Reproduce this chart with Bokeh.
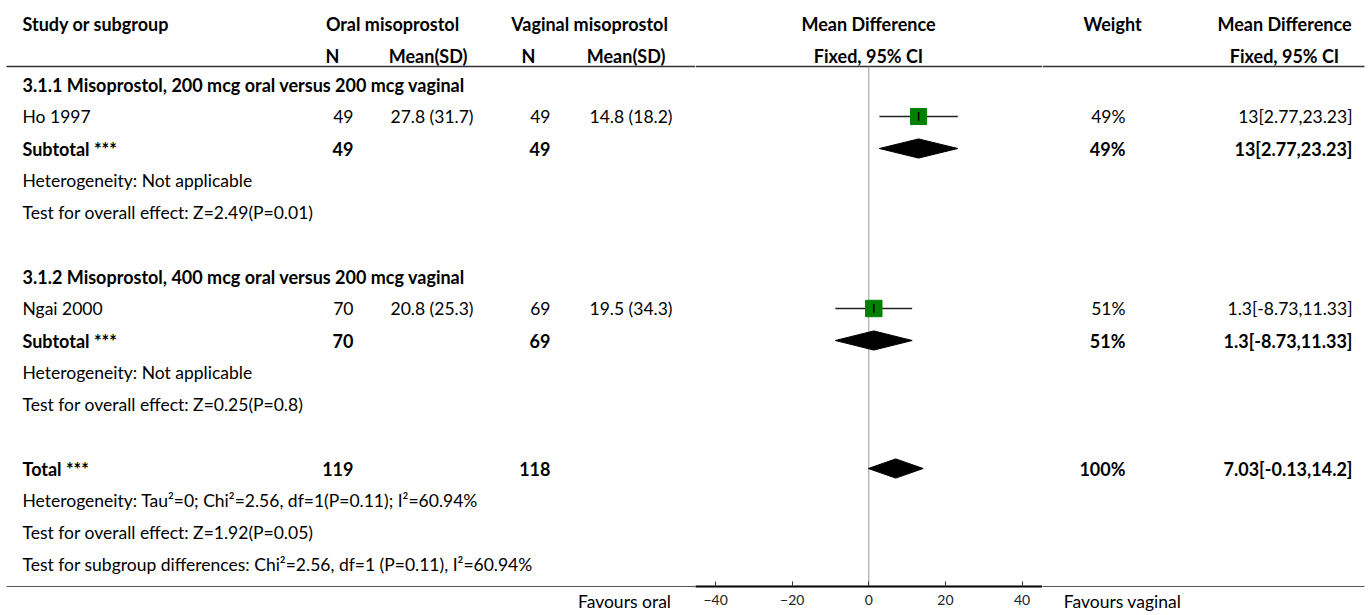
import math
from bokeh.plotting import figure
from bokeh.layouts import row
from bokeh.models import Range1d, LinearAxis, FixedTicker, ColumnDataSource
from bokeh.core.properties import value
from bokeh.embed import file_html
from bokeh.resources import INLINE

# ---------------- data ----------------
studies = ["Ho 1997", "Ngai 2000"]
oral_n = [49, 70]
oral_mean = [27.8, 20.8]
oral_sd = [31.7, 25.3]
vag_n = [49, 69]
vag_mean = [14.8, 19.5]
vag_sd = [18.2, 34.3]
md = [13, 1.3]
md_lo = [2.77, -8.73]
md_hi = [23.23, 11.33]
weights = [49, 51]

subgroups = [
    "3.1.1 Misoprostol, 200 mcg oral versus 200 mcg vaginal",
    "3.1.2 Misoprostol, 400 mcg oral versus 200 mcg vaginal",
]
subgroup_het = ["Heterogeneity: Not applicable", "Heterogeneity: Not applicable"]
subgroup_test = ["Test for overall effect: Z=2.49(P=0.01)",
                 "Test for overall effect: Z=0.25(P=0.8)"]

total_oral_n = 119
total_vag_n = 118
total_md = 7.03
total_lo = -0.13
total_hi = 14.2
total_weight = 100
total_het = "Heterogeneity: Tau\u00b2=0; Chi\u00b2=2.56, df=1(P=0.11); I\u00b2=60.94%"
total_test = "Test for overall effect: Z=1.92(P=0.05)"
subgroup_diff = "Test for subgroup differences: Chi\u00b2=2.56, df=1 (P=0.11), I\u00b2=60.94%"

tick_values = [-40, -20, 0, 20, 40]
favours_left = "Favours oral"
favours_right = "Favours vaginal"

# ---------------- layout constants ----------------
FONT = "Lato"
FS = "17.5px"
FS_BOLD = "18px"
W, H = 1370, 615
AXIS_Y = 586                       # axis line (page pixels)
ROW0_PX, ROW_PX = 84, 32           # first table row centre and row pitch
FOREST_L, FOREST_R = 695, 1042     # forest panel extent (page pixels)
PX_PER_UNIT, ZERO_PX = 3.83, 868.3
FAV_LEFT_CENTER, FAV_RIGHT_CENTER = 624, 1122   # centres of the favours captions

def row_of(px):
    return (px - ROW0_PX) / ROW_PX

def md_of(px):
    return (px - ZERO_PX) / PX_PER_UNIT

HEAD1 = row_of(23)
HEAD2 = row_of(55)
RULE = row_of(66)
BASE = row_of(AXIS_Y)

X_LEFT = 22
X_ORAL_N, X_ORAL_M = 353, 473
X_VAG_N, X_VAG_M = 550, 672
X_WEIGHT = 1125
X_CI = 1352


def make_fig(width, x_range):
    f = figure(width=width, height=H, output_backend="svg", toolbar_location=None,
               x_range=x_range, y_range=Range1d(BASE, row_of(0)),
               x_axis_location=None, y_axis_location=None,
               min_border_left=0, min_border_right=0, min_border_top=0,
               min_border_bottom=H - AXIS_Y)
    f.outline_line_color = None
    f.background_fill_color = "white"
    f.border_fill_color = "white"
    f.grid.visible = False
    return f


# three panels side by side: study table | forest plot | weight and effect columns
left = make_fig(FOREST_L, Range1d(0, FOREST_L))
mid = make_fig(FOREST_R - FOREST_L, Range1d(md_of(FOREST_L), md_of(FOREST_R)))
right = make_fig(W - FOREST_R, Range1d(FOREST_R, W))
panels = {"left": left, "mid": mid, "right": right}

cells = {}  # (panel, align, bold) -> columns

def put(x, y, text, align="left", bold=False):
    panel = "left" if x < FOREST_L else ("mid" if x < FOREST_R else "right")
    if panel == "mid":
        x = md_of(x)
    d = cells.setdefault((panel, align, bold), {"x": [], "y": [], "text": []})
    d["x"].append(x)
    d["y"].append(y)
    d["text"].append(text)

def ci_text(est, lo, hi):
    return f"{est:g}[{lo:g},{hi:g}]"

# column headers
put(X_LEFT, HEAD1, "Study or subgroup", bold=True)
put(392, HEAD1, "Oral misoprostol", "center", True)
put(589, HEAD1, "Vaginal misoprostol", "center", True)
put(868, HEAD1, "Mean Difference", "center", True)
put(1112, HEAD1, "Weight", "center", True)
put(1284, HEAD1, "Mean Difference", "center", True)
put(332, HEAD2, "N", "center", True)
put(467, HEAD2, "Mean(SD)", "right", True)
put(528, HEAD2, "N", "center", True)
put(665, HEAD2, "Mean(SD)", "right", True)
put(868, HEAD2, "Fixed, 95% CI", "center", True)
put(1284, HEAD2, "Fixed, 95% CI", "center", True)

study_rows = []
sub_rows = []
for i, name in enumerate(studies):
    base = 6 * i
    r_study, r_sub = base + 1, base + 2
    study_rows.append(r_study)
    sub_rows.append(r_sub)
    put(X_LEFT, base, subgroups[i], bold=True)
    put(X_LEFT, r_study, name)
    put(X_ORAL_N, r_study, str(oral_n[i]), "right")
    put(X_ORAL_M, r_study, f"{oral_mean[i]} ({oral_sd[i]})", "right")
    put(X_VAG_N, r_study, str(vag_n[i]), "right")
    put(X_VAG_M, r_study, f"{vag_mean[i]} ({vag_sd[i]})", "right")
    put(X_WEIGHT, r_study, f"{weights[i]}%", "right")
    put(X_CI, r_study, ci_text(md[i], md_lo[i], md_hi[i]), "right")
    put(X_LEFT, r_sub, "Subtotal ***", bold=True)
    put(X_ORAL_N, r_sub, str(oral_n[i]), "right", True)
    put(X_VAG_N, r_sub, str(vag_n[i]), "right", True)
    put(X_WEIGHT, r_sub, f"{weights[i]}%", "right", True)
    put(X_CI, r_sub, ci_text(md[i], md_lo[i], md_hi[i]), "right", True)
    put(X_LEFT, base + 3, subgroup_het[i])
    put(X_LEFT, base + 4, subgroup_test[i])

R_TOTAL = 12
put(X_LEFT, R_TOTAL, "Total ***", bold=True)
put(X_ORAL_N, R_TOTAL, str(total_oral_n), "right", True)
put(X_VAG_N, R_TOTAL, str(total_vag_n), "right", True)
put(X_WEIGHT, R_TOTAL, f"{total_weight}%", "right", True)
put(X_CI, R_TOTAL, ci_text(total_md, total_lo, total_hi), "right", True)
put(X_LEFT, R_TOTAL + 1, total_het)
put(X_LEFT, R_TOTAL + 2, total_test)
put(X_LEFT, R_TOTAL + 3, subgroup_diff)

for (panel, align, bold), d in cells.items():
    panels[panel].text(x="x", y="y", text="text", source=ColumnDataSource(d),
                       text_align=align, text_baseline="middle",
                       text_font=value(FONT), text_font_size=FS_BOLD if bold else FS,
                       text_font_style="bold" if bold else "normal", text_color="black")

# rule under the header
left.segment(x0=[6], x1=[FOREST_L], y0=[RULE], y1=[RULE], line_color="#333333", line_width=1.3)
mid.segment(x0=[md_of(FOREST_L)], x1=[md_of(FOREST_R)], y0=[RULE], y1=[RULE],
            line_color="#333333", line_width=1.3)
right.segment(x0=[FOREST_R], x1=[1364], y0=[RULE], y1=[RULE], line_color="#333333", line_width=1.3)

# ---------------- forest plot ----------------
mid.segment(x0=[0], x1=[0], y0=[RULE], y1=[BASE], line_color="#999999", line_width=1)

mid.segment(x0=md_lo, x1=md_hi, y0=study_rows, y1=study_rows,
            line_color="#222222", line_width=1.5)
mid.scatter(x=md, y=study_rows, size=[math.sqrt(w) * 2.3 for w in weights],
            marker="square", fill_color="#008000", line_color="#008000")
mid.scatter(x=md, y=study_rows, size=9, marker="dash", angle=math.pi / 2,
            line_color="black", line_width=1.5)

half = 0.3
dia_est = md + [total_md]
dia_lo = md_lo + [total_lo]
dia_hi = md_hi + [total_hi]
dia_rows = sub_rows + [R_TOTAL]
mid.patches(xs=[[lo, e, hi, e] for lo, e, hi in zip(dia_lo, dia_est, dia_hi)],
            ys=[[r, r - half, r, r + half] for r in dia_rows],
            fill_color="black", line_color="black")

# ---------------- bottom axes ----------------
axis = LinearAxis(ticker=FixedTicker(ticks=tick_values))
axis.axis_line_color = "black"
axis.axis_line_width = 2
axis.major_tick_in = 5
axis.major_tick_out = 0
axis.major_tick_line_color = "#333333"
axis.minor_tick_line_color = None
axis.minor_tick_in = 0
axis.minor_tick_out = 0
axis.major_label_standoff = 8
axis.major_label_text_font = FONT
axis.major_label_text_font_size = "14px"
axis.major_label_text_color = "#222222"
mid.add_layout(axis, "below")


def caption_axis(center, caption, bounds):
    ax = LinearAxis(ticker=FixedTicker(ticks=[center]),
                    major_label_overrides={center: caption})
    ax.bounds = bounds
    ax.axis_line_color = "#555555"
    ax.axis_line_width = 1
    ax.major_tick_line_color = None
    ax.major_tick_in = 0
    ax.major_tick_out = 0
    ax.minor_tick_line_color = None
    ax.minor_tick_in = 0
    ax.minor_tick_out = 0
    ax.major_label_standoff = 4
    ax.major_label_text_font = FONT
    ax.major_label_text_font_size = FS
    ax.major_label_text_color = "black"
    return ax


left.add_layout(caption_axis(FAV_LEFT_CENTER, favours_left, (6, FOREST_L)), "below")
right.add_layout(caption_axis(FAV_RIGHT_CENTER, favours_right, (FOREST_R, 1364)), "below")

layout = row(left, mid, right, spacing=0)

open("out.html", "w").write(file_html(layout, INLINE))
